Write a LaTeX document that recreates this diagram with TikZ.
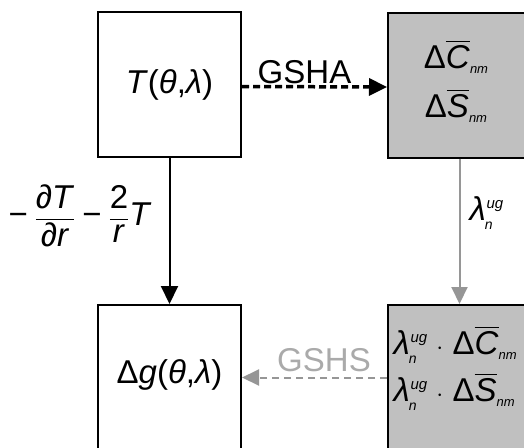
\documentclass[tikz,border=0pt]{standalone}
\usepackage{fontspec}
\setmainfont{Liberation Sans}
\usepackage{amsmath}
\usetikzlibrary{arrows.meta}

\definecolor{boxgray}{RGB}{192,192,192}
\definecolor{linegray}{RGB}{150,150,150}
\definecolor{textgray}{RGB}{170,170,170}

% italic variable and small index helpers
\newcommand{\vi}[1]{\textit{#1}}
\newcommand{\lowidx}[1]{\raisebox{-5pt}{\fontsize{13}{13}\selectfont\vi{#1}}}
\newcommand{\lamug}{\vi{λ}\hspace{-1pt}\raisebox{-9pt}{\fontsize{14}{14}\selectfont\vi{n}}\hspace{-6pt}\raisebox{12pt}{\fontsize{15}{15}\selectfont\vi{ug}}}
\newcommand{\mminus}{\char"2212}

\tikzset{
  bigfont/.style={font=\fontsize{33}{38}\selectfont},
  whitebox/.style={draw=black, line width=2pt, fill=white, minimum width=143pt, minimum height=145pt, inner sep=0pt, bigfont},
  graybox/.style={whitebox, fill=boxgray},
  solidarrow/.style={line width=2pt, -{Triangle[length=18pt,width=17pt]}},
  grayarrow/.style={draw=linegray, line width=2pt, -{Triangle[length=17pt,width=16pt]}, linegray},
}

\begin{document}
\begin{tikzpicture}[x=1pt, y=-1pt]
  \useasboundingbox (0,0) rectangle (524,447);
  \clip (0,0) rectangle (524,447);

  % the four boxes
  \node[whitebox] (T) at (169.5,84.5) {\vi{T}(\vi{θ},\vi{λ})};
  \node[graybox] (CS) at (459.5,85) {};
  \node[whitebox] (G) at (169.5,377.5) {\raisebox{12pt}{Δ\vi{g}(\vi{θ},\vi{λ})}};
  \node[graybox] (LCS) at (459.5,377.5) {};

  % coefficient labels
  \node[bigfont] (cbar) at (456,57) {Δ$\overline{\text{\vi{C}}}$\lowidx{nm}};
  \node[bigfont] (sbar) at (456,106) {Δ$\overline{\text{\vi{S}}}$\lowidx{nm}};
  \node[bigfont, anchor=west] (lcbar) at (390,345)
    {\lamug\ $\cdot$ Δ$\overline{\text{\vi{C}}}$\lowidx{nm}};
  \node[bigfont, anchor=west] (lsbar) at (390,392)
    {\lamug\ $\cdot$ Δ$\overline{\text{\vi{S}}}$\lowidx{nm}};

  % analysis: grid to coefficients
  \draw[solidarrow, line width=3.5pt, dash pattern=on 7pt off 4pt]
    ([yshift=-2pt]T.east) -- node[bigfont, above, xshift=-10pt, inner sep=1pt] (gsha) {GSHA} ([yshift=-2pt]CS.west);

  % radial derivative: grid to gravity anomalies
  \draw[solidarrow] (T.south) -- (G.north);
  \node[bigfont] (deriv) at (80,216)
    {$\text{\mminus}\;\dfrac{\text{\vi{∂T}}}{\text{\vi{∂r}}}\;\text{\mminus}\;\dfrac{\text{2}}{\text{\vi{r}}}\text{\vi{T}}$};

  % scaling of the coefficients
  \draw[grayarrow] (CS.south) -- (LCS.north);
  \node[bigfont, anchor=west] (lam) at (466,213) {\lamug};

  % synthesis back to the grid
  \draw[grayarrow, dash pattern=on 7pt off 5pt]
    (LCS.west) -- (G.east);
  \node[bigfont, text=textgray] (gshs) at (324,360) {GSHS};
\end{tikzpicture}
\end{document}
